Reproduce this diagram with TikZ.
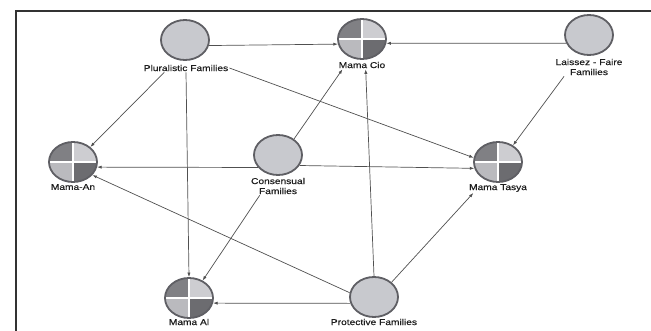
\documentclass[tikz,border=0pt]{standalone}
\usepackage{fontspec}
\setmainfont{Liberation Sans}
\newfontfamily\lblfont[FakeStretch=1.2,FakeBold=0.4]{Liberation Sans}
\usetikzlibrary{arrows.meta,shapes.geometric,calc}
\definecolor{famfill}{RGB}{200,201,206}
\definecolor{ringc}{RGB}{95,95,100}
\definecolor{qdarkA}{RGB}{128,128,132}
\definecolor{qlightA}{RGB}{205,205,209}
\definecolor{qlightB}{RGB}{186,186,190}
\definecolor{qdarkB}{RGB}{108,108,112}
\definecolor{edgec}{RGB}{80,80,80}
\definecolor{framec}{RGB}{50,50,50}
\definecolor{txtc}{RGB}{30,30,30}
\begin{document}
\begin{tikzpicture}[x=1pt,y=-1pt,
  fam/.style={ellipse, minimum width=48pt, minimum height=40pt, inner sep=0pt,
    draw=ringc, line width=1.8pt, fill=famfill},
  mama/.style={ellipse, minimum width=48pt, minimum height=40pt, inner sep=0pt,
    draw=ringc, line width=1.8pt,
    path picture={
      \fill[qdarkA] (path picture bounding box.center) rectangle (path picture bounding box.north west);
      \fill[qlightA] (path picture bounding box.center) rectangle (path picture bounding box.north east);
      \fill[qlightB] (path picture bounding box.center) rectangle (path picture bounding box.south west);
      \fill[qdarkB] (path picture bounding box.center) rectangle (path picture bounding box.south east);
      \draw[white, line width=1.8pt] (path picture bounding box.north) -- (path picture bounding box.south)
        (path picture bounding box.west) -- (path picture bounding box.east);
    }},
  lbl/.style={font=\lblfont\fontsize{8.5}{10}\selectfont, text=txtc, inner sep=1pt, align=center},
  conn/.style={draw=edgec, line width=0.7pt, -{Latex[length=4.5pt,width=3.2pt]}},
  framel/.style={draw=framec, line width=2pt}
]
\useasboundingbox[fill=white] (0,0) rectangle (651,331);
\draw[framel] (16,331) -- (16,11) -- (651,11);

% family nodes
\node[fam] (PL) at (185,40) {};
\node[lbl] (PLl) at (186,68) {Pluralistic Families};
\node[fam] (LF) at (589,35) {};
\node[lbl] (LFl) at (589,67) {Laissez - Faire\\Families};
\node[fam] (CO) at (278,155) {};
\node[lbl] (COl) at (278,186) {Consensual\\Families};
\node[fam] (PR) at (374,297) {};
\node[lbl] (PRl) at (374,322) {Protective Families};

% mama nodes
\node[mama] (CIO) at (362,39) {};
\node[lbl] (CIOl) at (362,65) {Mama Cio};
\node[mama] (AN) at (73,162) {};
\node[lbl] (ANl) at (73,187) {Mama-An};
\node[mama] (TA) at (498,162) {};
\node[lbl] (TAl) at (498,188) {Mama Tasya};
\node[mama] (AL) at (189,298) {};
\node[lbl] (ALl) at (189,322) {Mama Al};

% connectors
\draw[conn] (PL.-13) -- (CIO.192);
\draw[conn] (LF.200) -- (CIO.-10);
\draw[conn] ($(PLl.south)!0.5!(PLl.south west)$) -- (AN.41);
\draw[conn] (PLl.south) -- (AL.north);
\draw[conn] (PLl.east) -- (TA.170);
\draw[conn] ($(LFl.south)!0.72!(LFl.south west)$) -- (TA.48);
\draw[conn] (CO.212) -- (AN.-12);
\draw[conn] (CO.-26) -- (TA.195);
\draw[conn] (CO.45) -- ($(CIOl.south west)!0.1!(CIOl.south east)$);
\draw[conn] ($(COl.south)!0.65!(COl.south west)$) -- (AL.52);
\draw[conn] (PR.195) -- (AL.-12);
\draw[conn] (PR.north) -- ($(CIOl.south)!0.15!(CIOl.south east)$);
\draw[conn] (PR.40) -- ($(TAl.south west)!0.09!(TAl.south east)$);
\draw[conn] (PR.170) -- (AN.-34);
\end{tikzpicture}
\end{document}
